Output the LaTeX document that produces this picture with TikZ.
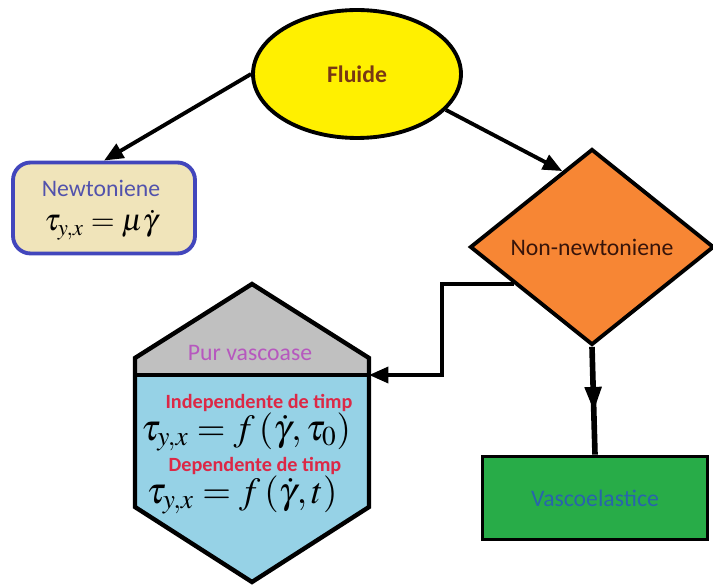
\documentclass[tikz,border=0pt]{standalone}
\usepackage{mathptmx}
\usepackage{fontspec}
\setmainfont{Carlito}
\usetikzlibrary{positioning}
\usetikzlibrary{shapes.geometric}
\usetikzlibrary{arrows.meta}
\usetikzlibrary{decorations.markings}
\usetikzlibrary{calc}
\usepackage{xcolor}

\definecolor{fluidyellow}{RGB}{255,240,0}
\definecolor{fluidtext}{RGB}{120,55,20}
\definecolor{newtbeige}{RGB}{240,228,186}
\definecolor{newtblue}{RGB}{66,70,188}
\definecolor{newttext}{RGB}{82,82,172}
\definecolor{nonorange}{RGB}{247,134,52}
\definecolor{nontext}{RGB}{55,20,10}
\definecolor{hexgray}{RGB}{192,192,192}
\definecolor{hexblue}{RGB}{150,210,230}
\definecolor{purtext}{RGB}{182,88,190}
\definecolor{redtext}{RGB}{220,40,70}
\definecolor{viscogreen}{RGB}{40,172,72}
\definecolor{viscotext}{RGB}{40,100,172}

\begin{document}
\begin{tikzpicture}[x=0.02cm,y=-0.02cm,
    box/.style={draw=black,line width=2.2pt,inner sep=0pt},
    link/.style={line width=2.2pt,-{Triangle[length=11pt,width=9pt]}},
    lbl/.style={font=\fontsize{13.5}{15}\selectfont},
    redlbl/.style={text=redtext,font=\fontsize{11.5}{13}\selectfont\bfseries},
    eqn/.style={font=\fontsize{21}{23}\selectfont}]

\useasboundingbox (0,0) rectangle (713,587);

% top
\node[box,ellipse,fill=fluidyellow,minimum width=4.16cm,minimum height=2.56cm,text=fluidtext,font=\fontsize{13.5}{15}\selectfont\bfseries] (fluid) at (357,74) {Fluide};

% left box
\node[draw=newtblue,line width=2.2pt,rounded corners=10pt,fill=newtbeige,minimum width=3.64cm,minimum height=1.82cm] (newt) at (104,208) {};
\node[lbl,text=newttext] (newtname) at (101,188) {Newtoniene};
\node[font=\fontsize{17.5}{19}\selectfont] (newteq) at (101,225) {$\tau_{y,x}=\mu\dot{\gamma}$};

% diamond
\node[box,diamond,fill=nonorange,minimum width=4.88cm,minimum height=3.92cm,text=nontext,font=\fontsize{13.5}{15}\selectfont] (non) at (592,247) {Non-newtoniene};

% green box
\node[box,fill=viscogreen,minimum width=4.5cm,minimum height=1.66cm,lbl,text=viscotext] (visco) at (595,498) {Vascoelastice};

% hexagon
\fill[hexgray] (252,284) -- (369,358) -- (369,375) -- (135,375) -- (135,358) -- cycle;
\fill[hexblue] (135,375) -- (369,375) -- (369,507) -- (252,582) -- (135,507) -- cycle;
\draw[line width=2.5pt] (252,284) -- (369,358) -- (369,507) -- (252,582) -- (135,507) -- (135,358) -- cycle;
\draw[line width=2.5pt] (135,375) -- (369,375);
\coordinate (hexr) at (369,375);

\node[lbl,text=purtext] (pur) at (250,353) {Pur vascoase};
\node[redlbl] (indep) at (259,403) {Independente de timp};
\node[eqn] (indepeq) at (246,432) {$\tau_{y,x}=f\left(\dot{\gamma},\tau_0\right)$};
\node[redlbl] (dep) at (255,466) {Dependente de timp};
\node[eqn] (depeq) at (242,495) {$\tau_{y,x}=f\left(\dot{\gamma},t\right)$};

% arrows
\draw[link] (fluid.west) -- (newt.north);
\draw[link] (fluid.-22) -- ($(non.west)!0.76!(non.north)$);
\draw[link] ($(non.west)!0.37!(non.south)$) -| ($(hexr)+(73,0)$) -- (hexr);

\begin{scope}
[line width=3.2pt,decoration={
    markings,
    mark=at position 0.6 with {\arrow{Triangle[length=14pt,width=9pt]}}}
    ]
    \draw[postaction={decorate}] (non.south) -- (visco.north);
\end{scope}

\end{tikzpicture}
\end{document}
